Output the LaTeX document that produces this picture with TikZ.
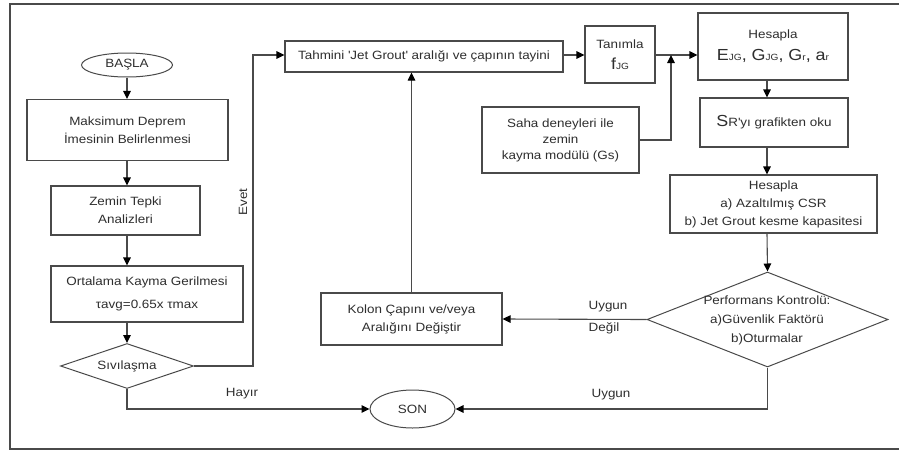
\documentclass[tikz,border=0pt]{standalone}
\usepackage{fontspec}
\setmainfont{Liberation Sans}[FakeStretch=1.12]
\usetikzlibrary{shapes.geometric,arrows.meta}
\definecolor{ln}{HTML}{4A4A4A}
\definecolor{tx}{HTML}{2E2E2E}
\newcommand\normf{\fontsize{12}{18}\selectfont}
\newcommand\bigf[1]{{\fontsize{16}{18}\selectfont #1}}
\newcommand\smf[1]{{\fontsize{9}{12}\selectfont #1}}
\begin{document}
\begin{tikzpicture}[x=1pt,y=-1pt,
  box/.style={draw=ln, line width=1.1pt, fill=white, rectangle, align=center, text=tx, inner sep=1pt, font=\normf},
  term/.style={draw=ln, line width=1pt, fill=white, ellipse, text=tx, inner sep=0pt, font=\normf},
  dec/.style={draw=ln, line width=1pt, fill=white, diamond, inner sep=0pt, shape aspect=3, text=tx, font=\normf},
  conn/.style={draw=ln, line width=1.1pt, -{Triangle[length=8pt,width=7.5pt,color=black,fill=black]}},
  lbl/.style={text=tx, font=\normf, inner sep=0pt}]
\useasboundingbox (0,0) rectangle (899,450);
\draw[ln, line width=1.3pt] (899,4) -- (10,4) -- (10,449) -- (899,449);

% left column
\node[term, minimum width=91pt, minimum height=24pt] (basla) at (127,65) {BAŞLA};
\node[box, minimum width=201pt, minimum height=61pt] (maks) at (127.5,130) {Maksimum Deprem\\İmesinin Belirlenmesi};
\node[box, minimum width=149pt, minimum height=49pt] (zemin) at (125.5,210.5) {Zemin Tepki\\Analizleri};
\node[box, minimum width=192pt, minimum height=56pt] (ort) at (147,294) {Ortalama Kayma Gerilmesi\\[5pt]τavg=0.65x τmax};
\node[dec, minimum width=133pt, minimum height=45pt] (siv) at (127,366) {Sıvılaşma};

% top row
\node[box, minimum width=278pt, minimum height=31pt] (tah) at (424,56.5) {Tahmini \textquotesingle Jet Grout\textquotesingle{} aralığı ve çapının tayini};
\node[box, minimum width=70pt, minimum height=57pt] (tan) at (620,54.5) {Tanımla\\[3pt]\bigf{f}\smf{JG}};
\node[box, minimum width=157pt, minimum height=66pt, font=\fontsize{12}{16}\selectfont] (saha) at (560.5,140) {Saha deneyleri ile\\zemin\\kayma modülü (Gs)};
\node[box, minimum width=150pt, minimum height=67pt] (hes1) at (773,46.5) {Hesapla\\[4pt]\bigf{E}\smf{JG}\bigf{, G}\smf{JG}\bigf{, G}\smf{r}\bigf{, a}\smf{r}};
\node[box, minimum width=148pt, minimum height=49pt] (sr) at (774,122.5) {\bigf{S}R\textquotesingle yı grafikten oku};
\node[box, minimum width=207pt, minimum height=58pt, font=\fontsize{12}{18}\selectfont] (hes2) at (773.5,204) {Hesapla\\a) Azaltılmış CSR\\b) Jet Grout kesme kapasitesi};

% decision and lower row
\node[dec, minimum width=241pt, minimum height=95pt] (perf) at (767.5,319.5) {};
\node[lbl, align=center, font=\fontsize{12}{19}\selectfont] (perftx) at (767,320) {Performans Kontrolü:\\a)Güvenlik Faktörü\\b)Oturmalar};
\node[box, minimum width=181pt, minimum height=52pt] (kolon) at (411.5,319) {Kolon Çapını ve/veya\\Aralığını Değiştir};
\node[term, minimum width=85pt, minimum height=38pt] (son) at (412.5,409) {SON};

% labels
\node[lbl, rotate=90] (evet) at (243,202) {Evet};
\node[lbl] (hayir) at (242,394) {Hayır};
\node[lbl] (uy1) at (608,307) {Uygun};
\node[lbl] (dg1) at (604,328) {Değil};
\node[lbl] (uyg) at (611,395) {Uygun};

% connectors
\coordinate (arrY) at (0,55);
\coordinate (c1t) at (253,55);
\coordinate (sj) at (671,55);
\coordinate (rc) at (767,0);
\draw[conn] (basla.south) -- (basla.south |- maks.north);
\draw[conn] (maks.south -| basla) -- (zemin.north -| basla);
\draw[conn] (zemin.south -| basla) -- (ort.north -| basla);
\draw[conn] (ort.south -| basla) -- (siv.north);
\draw[conn] (siv.east) -| (c1t) -- (c1t -| tah.west);
\draw[conn] (tah.east |- arrY) -- (tan.west |- arrY);
\draw[conn] (tan.east |- arrY) -- (hes1.west |- arrY);
\draw[conn] (saha.east) -| (sj);
\draw[conn] (hes1.south -| rc) -- (sr.north -| rc);
\draw[conn] (sr.south -| rc) -- (hes2.north -| rc);
\draw[conn] (hes2.south -| rc) -- (perf.north);
\draw[conn] (perf.west) -- (kolon.east);
\draw[conn] (kolon.north) -- (tah.south -| kolon.north);
\draw[conn] (perf.south) |- (son.east);
\draw[conn] (siv.south) |- (son.west);
\end{tikzpicture}
\end{document}
